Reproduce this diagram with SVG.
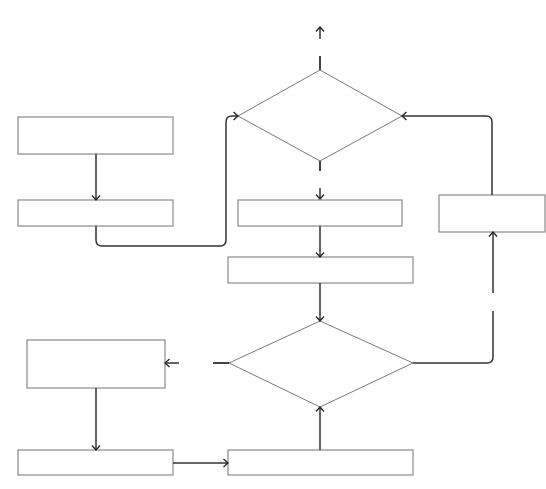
<svg xmlns="http://www.w3.org/2000/svg" width="546" height="489" viewBox="0 0 546 489">
<style>
.box{fill:#fff;stroke:#8a8a8a;stroke-width:1.2}
.dia{fill:#fff;stroke:#7a7a7a;stroke-width:1}
.c{fill:none;stroke:#333;stroke-width:1.5}
.s{fill:none;stroke:#444;stroke-width:2}
</style>
<defs>
<marker id="a" viewBox="-6 -6 12 12" refX="0" refY="0" markerWidth="12" markerHeight="12" markerUnits="userSpaceOnUse" orient="auto">
<path d="M-4.5,-4 L0,0 L-4.5,4" fill="none" stroke="#222" stroke-width="1.3"/>
</marker>
</defs>
<rect width="546" height="489" fill="#fff"/>
<g id="box1"><rect class="box" x="18" y="117" width="155" height="37"/></g>
<g id="box2"><rect class="box" x="18" y="200" width="155" height="26"/></g>
<g id="dia1"><polygon class="dia" points="320,70 402,116 320,161 238,116"/></g>
<g id="box3"><rect class="box" x="238" y="200" width="164" height="26"/></g>
<g id="box4"><rect class="box" x="228" y="257" width="185" height="26"/></g>
<g id="box5"><rect class="box" x="439" y="195" width="106" height="37"/></g>
<g id="dia2"><polygon class="dia" points="320,321 413,363 320,407 229,363"/></g>
<g id="box6"><rect class="box" x="27" y="340" width="138" height="48"/></g>
<g id="box7"><rect class="box" x="18" y="450" width="155" height="25"/></g>
<g id="box8"><rect class="box" x="228" y="450" width="185" height="25"/></g>
<g id="connectors">
<path class="c" d="M96,154 V200" marker-end="url(#a)"/>
<path class="c" d="M96,226 V240 Q96,246 102,246 H220 Q226,246 226,240 V122 Q226,116 232,116 H238" marker-end="url(#a)"/>
<path class="s" d="M320,56 V70"/>
<path class="c" d="M320,39 V27" marker-end="url(#a)"/>
<path class="s" d="M320,161 V171"/>
<path class="c" d="M320,188 V199" marker-end="url(#a)"/>
<path class="c" d="M320,226 V257" marker-end="url(#a)"/>
<path class="c" d="M320,283 V321" marker-end="url(#a)"/>
<path class="c" d="M413,363 H487 Q493,363 493,357 V311"/>
<path class="c" d="M493,293 V232" marker-end="url(#a)"/>
<path class="c" d="M492,195 V122 Q492,116 486,116 H402" marker-end="url(#a)"/>
<path class="s" d="M213,363 H229"/>
<path class="c" d="M179,363 H165" marker-end="url(#a)"/>
<path class="c" d="M96,388 V450" marker-end="url(#a)"/>
<path class="c" d="M173,463 H228" marker-end="url(#a)"/>
<path class="c" d="M320,450 V407" marker-end="url(#a)"/>
</g>
</svg>
